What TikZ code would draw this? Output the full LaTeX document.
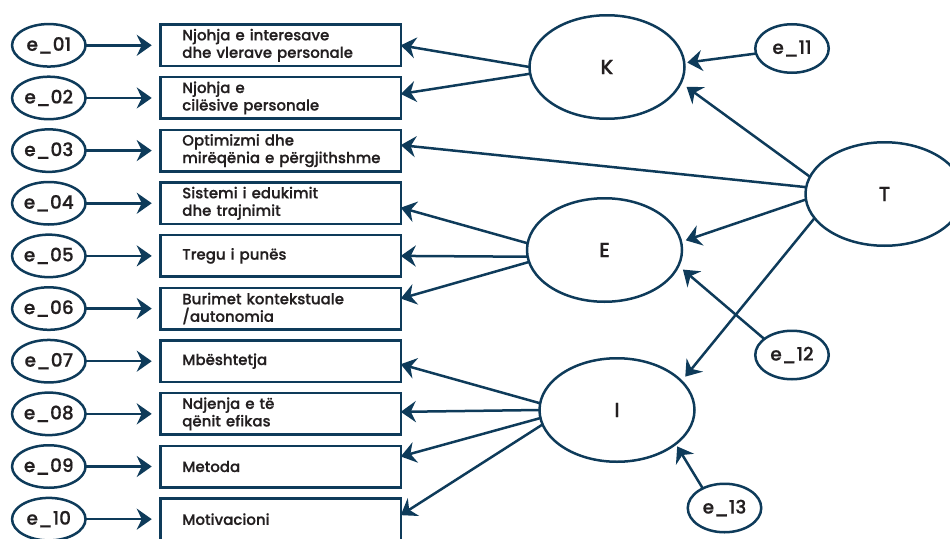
\documentclass[tikz,border=0pt]{standalone}
\usepackage{fontspec}
\setmainfont{Poppins}[UprightFont=* Medium, FakeBold=0.6]
\usepackage{tikz}
\usetikzlibrary{shapes.geometric,arrows.meta,positioning}
\definecolor{navy}{HTML}{0E3B5A}
\definecolor{ink}{HTML}{231F20}

\begin{document}
\begin{tikzpicture}[x=1pt, y=-1pt,
  ind/.style={rectangle, draw=navy, line width=2.5pt, outer sep=0pt,
    inner xsep=22pt, inner ysep=2pt, text width=196.5pt, minimum height=41.5pt,
    align=left, text=ink, font=\fontsize{15}{17.5}\selectfont},
  err/.style={ellipse, draw=navy, line width=2.5pt, outer sep=0pt,
    inner sep=0pt, minimum width=73.5pt, minimum height=42.5pt, text=ink,
    font=\fontsize{18.5}{22}\selectfont},
  errs/.style={err, minimum height=48.5pt},
  lat/.style={ellipse, draw=navy, line width=2.5pt, outer sep=0pt,
    inner sep=0pt, minimum width=155pt, minimum height=103.5pt, text=ink,
    font=\fontsize{20.5}{24}\selectfont},
  arr/.style={-{Stealth[length=15pt, width=21pt, inset=5pt]}, draw=navy,
    line width=2.5pt},
  node distance=11.15pt
]
\useasboundingbox (0,0) rectangle (950,538);

% indicators
\node[ind] (b1) at (280.5,45.3) {Njohja e interesave\\dhe vlerave personale};
\node[ind, below=of b1] (b2) {Njohja e\\cilësive personale};
\node[ind, below=of b2] (b3) {Optimizmi dhe\\mirëqënia~e~përgjithshme};
\node[ind, below=of b3] (b4) {Sistemi i edukimit\\dhe trajnimit};
\node[ind, below=of b4] (b5) {Tregu i punës};
\node[ind, below=of b5] (b6) {Burimet kontekstuale\\/autonomia};
\node[ind, below=of b6] (b7) {Mbështetja};
\node[ind, below=of b7] (b8) {Ndjenja e të\\qënit efikas};
\node[ind, below=of b8] (b9) {Metoda};
\node[ind, below=of b9] (b10) {Motivacioni};

% errors of the indicators
\node[err, left=74.7pt of b1] (e01) {e\_01};
\node[err, left=74.7pt of b2] (e02) {e\_02};
\node[err, left=74.7pt of b3] (e03) {e\_03};
\node[err, left=74.7pt of b4] (e04) {e\_04};
\node[err, left=74.7pt of b5] (e05) {e\_05};
\node[err, left=74.7pt of b6] (e06) {e\_06};
\node[err, left=74.7pt of b7] (e07) {e\_07};
\node[err, left=74.7pt of b8] (e08) {e\_08};
\node[err, left=74.7pt of b9] (e09) {e\_09};
\node[err, left=74.7pt of b10] (e10) {e\_10};

% latent factors
\node[lat] (K) at (607,67) {K};
\node[lat] (E) at (604.5,250) {E};
\node[lat] (I) at (617,410) {I};
\node[lat, minimum width=158pt] (T) at (884.5,194) {T};
\node[errs] (e11) at (792,48.5) {e\_11};
\node[errs] (e12) at (792,355) {e\_12};
\node[errs] (e13) at (724.5,508) {e\_13};

\draw[arr, shorten >=8.5pt] (e01) -- (b1);
\draw[arr, shorten >=8.5pt] (e02) -- (b2);
\draw[arr, shorten >=8.5pt] (e03) -- (b3);
\draw[arr, shorten >=8.5pt] (e04) -- (b4);
\draw[arr, shorten >=8.5pt] (e05) -- (b5);
\draw[arr, shorten >=8.5pt] (e06) -- (b6);
\draw[arr, shorten >=8.5pt] (e07) -- (b7);
\draw[arr, shorten >=8.5pt] (e08) -- (b8);
\draw[arr, shorten >=8.5pt] (e09) -- (b9);
\draw[arr, shorten >=8.5pt] (e10) -- (b10);

\draw[arr] (K.west) -- (b1.east);
\draw[arr] (K.185) -- ([yshift=4pt]b2.east);
\draw[arr] (T.175) -- ([yshift=5.5pt]b3.east);
\draw[arr] (E.175) -- ([yshift=-4.4pt]b4.east);
\draw[arr] (E.185) -- (b5.east);
\draw[arr] (E.189) -- ([yshift=10pt]b6.east);
\draw[arr] (I.175) -- ([yshift=-3pt]b7.east);
\draw[arr] (I.west) -- ([yshift=2pt]b8.east);
\draw[arr] (I.186) -- ([yshift=10pt]b9.east);
\draw[arr] (I.191) -- ([yshift=4pt]b10.east);

\draw[arr, shorten >=3pt] (e11.188) -- (K.3);
\draw[arr, shorten >=7pt] (T.167) -- (K.-12);
\draw[arr, shorten >=5pt] (T.184) -- (E.6);
\draw[arr, shorten >=6pt] (T.199) -- (I.24);
\draw[arr, shorten >=6pt] (e12.150) -- (E.-12);
\draw[arr, shorten >=3pt] (e13.138) -- (I.-30);

\end{tikzpicture}
\end{document}
